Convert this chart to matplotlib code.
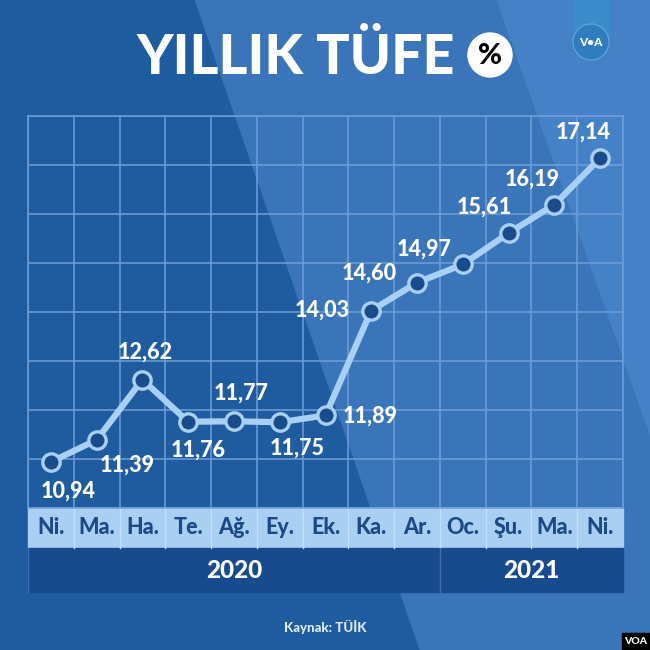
import matplotlib.pyplot as plt
import matplotlib.transforms as mtransforms
from matplotlib.patches import Polygon, Rectangle, Circle

months = ['Ni.', 'Ma.', 'Ha.', 'Te.', 'Ağ.', 'Ey.', 'Ek.', 'Ka.', 'Ar.', 'Oc.', 'Şu.', 'Ma.', 'Ni.']
values = [10.94, 11.39, 12.62, 11.76, 11.77, 11.75, 11.89, 14.03, 14.60, 14.97, 15.61, 16.19, 17.14]
years = ['2020', '2021']
year_spans = [(0, 8), (9, 12)]     # first and last month index of each year

# label offsets in pixels (dx, dy)
label_offsets = [(17, -29), (31, -25), (3, 27), (10, -28), (7, 28), (17, -26), (45, -1),
                 (-49, 0), (-48, 9), (-39, 15), (-24, 26), (-22, 26), (-17, 26)]

FONT = ['Lato', 'DejaVu Sans']
plt.rcParams['font.family'] = FONT

DARK = '#1e5b9f'
MID = '#3a74b9'
LIGHT = '#4481c7'
ROW_LIGHT = '#a9cff2'
ROW_DARK = '#184b8d'
TXT_DARK = '#1b4a86'
LINE = '#a8cff4'
GRID = '#6f9ed8'

fig = plt.figure(figsize=(6.5, 6.5), dpi=100)

# background with diagonal bands (pixel coordinates)
bg = fig.add_axes([0, 0, 1, 1])
bg.set_xlim(0, 650)
bg.set_ylim(650, 0)
bg.axis('off')
bg.add_patch(Rectangle((0, 0), 650, 650, color=DARK, zorder=0))
bg.add_patch(Polygon([(195, 0), (650, 0), (650, 650), (420, 650)], color=MID, zorder=1))
bg.add_patch(Polygon([(497, 0), (650, 0), (650, 435)], color=LIGHT, zorder=2))

# title
fig.text(296 / 650, 1 - 74 / 650, 'YILLIK TÜFE', color='white', fontsize=40,
         fontweight='black', ha='center', va='baseline')
bg.add_patch(Circle((490, 55), 22, color='white', zorder=3))
bg.text(490, 56, '%', color='black', fontsize=21, fontweight='black',
        ha='center', va='center', zorder=4)

# VOA ribbon logo
bg.add_patch(Rectangle((574, 0), 34, 40, color='#3b8ccb', zorder=3))
bg.add_patch(Circle((591, 42), 18, color='#2f7cbf', ec='#5aa2da', lw=1, zorder=4))
bg.text(591, 43, 'V•A', color='white', fontsize=8.5, fontweight='black',
        ha='center', va='center', zorder=5)

# source and corner badge
fig.text(325 / 650, 1 - 627 / 650, 'Kaynak: TÜİK', color='#dce9f8', fontsize=9.5,
         fontweight='black', ha='center', va='center')
bg.add_patch(Rectangle((622, 633), 28, 17, color='black', zorder=3))
bg.text(636, 642, 'VOA', color='white', fontsize=7.5, fontweight='black',
        ha='center', va='center', zorder=4)

# chart
ax = fig.add_axes([28 / 650, 1 - 508 / 650, 595 / 650, 392 / 650])
ax.patch.set_alpha(0)
x = list(range(len(values)))
ax.set_xlim(-0.5, len(values) - 0.5)
ax.set_ylim(10, 18)
ax.set_xticks([i - 0.5 for i in range(len(values) + 1)])
ax.set_yticks(range(10, 19))
ax.grid(True, color=GRID, lw=1.1)
ax.tick_params(length=0, labelbottom=False, labelleft=False)
for s in ax.spines.values():
    s.set_color(GRID)
    s.set_linewidth(1.1)
ax.set_axisbelow(True)

ax.plot(x, values, color=LINE, lw=4.5, zorder=3, solid_capstyle='round')
ax.plot(x, values, 'o', ms=12.5, mfc='#1a4c8c', mec=LINE, mew=2.4, zorder=4, clip_on=False)

for xi, v, (dx, dy) in zip(x, values, label_offsets):
    ax.annotate(f'{v:.2f}'.replace('.', ','), (xi, v), xytext=(dx, dy),
                textcoords='offset pixels', ha='center', va='center',
                color='white', fontsize=15.5, fontweight='black', zorder=5)

# month and year rows under the plot
trans = mtransforms.blended_transform_factory(ax.transData, ax.transAxes)
row_h = 40 / 392
yr_h = 44 / 392
ax.add_patch(Rectangle((-0.5, -row_h), len(values), row_h, transform=trans,
                       color=ROW_LIGHT, clip_on=False, zorder=2))
ax.add_patch(Rectangle((-0.5, -row_h - yr_h), len(values), yr_h, transform=trans,
                       color=ROW_DARK, clip_on=False, zorder=2))
for i in range(1, len(values)):
    ax.plot([i - 0.5, i - 0.5], [-row_h, 0], transform=trans, color='#c4e0f8',
            lw=1, clip_on=False, zorder=2.5)
for i, m in enumerate(months):
    ax.text(i, -row_h / 2, m, transform=trans, ha='center', va='center',
            color=TXT_DARK, fontsize=15.5, fontweight='black', zorder=3)
for yl, (a, b) in zip(years, year_spans):
    ax.text((a + b) / 2, -row_h - yr_h / 2, yl, transform=trans, ha='center',
            va='center', color='white', fontsize=17.5, fontweight='black', zorder=3)
for xb in [-0.5, year_spans[1][0] - 0.5]:
    ax.plot([xb, xb], [-row_h - yr_h, -row_h], transform=trans, color='#3d6fae',
            lw=1, clip_on=False, zorder=2.5)

fig.savefig('out.png', dpi=100)
